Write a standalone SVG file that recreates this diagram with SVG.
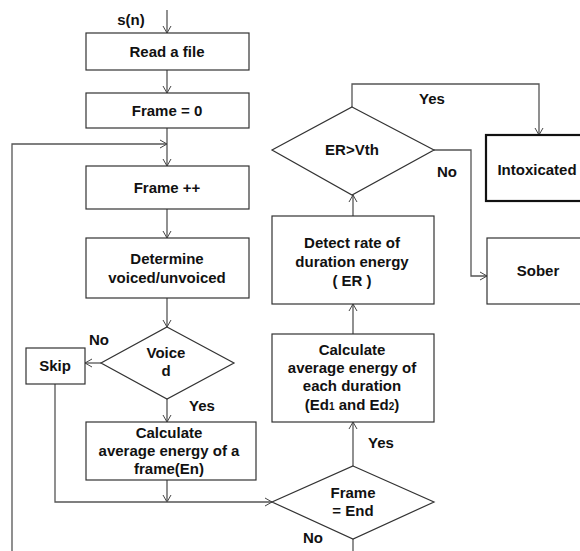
<svg xmlns="http://www.w3.org/2000/svg" width="580" height="551" viewBox="0 0 580 551">
<defs>
<marker id="arr" markerWidth="10" markerHeight="10" refX="8" refY="5" orient="auto" markerUnits="userSpaceOnUse">
<path d="M1,1 L8,5 L1,9" fill="none" stroke="#444" stroke-width="1"/>
</marker>
<style>
.box{fill:#fff;stroke:#333;stroke-width:1.2}
.thick{fill:#fff;stroke:#111;stroke-width:2.2}
.ln{fill:none;stroke:#555;stroke-width:1.3}
.t{font-family:"Liberation Sans",Arial,sans-serif;font-weight:bold;font-size:15px;fill:#111;text-anchor:middle}
.s{font-size:10px}
</style>
</defs>
<rect width="580" height="551" fill="#fff"/>
<g id="connectors">
<path class="ln" d="M167,10 V33" marker-end="url(#arr)"/>
<path class="ln" d="M167,70 V93" marker-end="url(#arr)"/>
<path class="ln" d="M167,128 V166" marker-end="url(#arr)"/>
<path class="ln" d="M12,551 V144 H167" marker-end="url(#arr)"/>
<path class="ln" d="M167,209 V238" marker-end="url(#arr)"/>
<path class="ln" d="M167,298 V327" marker-end="url(#arr)"/>
<path class="ln" d="M101,363 H85" marker-end="url(#arr)"/>
<path class="ln" d="M167,399 V422" marker-end="url(#arr)"/>
<path class="ln" d="M167,480 V502" marker-end="url(#arr)"/>
<path class="ln" d="M55,384 V502 H272" marker-end="url(#arr)"/>
<path class="ln" d="M353,539 V551"/>
<path class="ln" d="M353,466 V422" marker-end="url(#arr)"/>
<path class="ln" d="M353,334 V304" marker-end="url(#arr)"/>
<path class="ln" d="M353,216 V195" marker-end="url(#arr)"/>
<path class="ln" d="M352,107 V84 H539 V135" marker-end="url(#arr)"/>
<path class="ln" d="M434,150 H471 V276 H487" marker-end="url(#arr)"/>
<text class="t" x="131" y="25">s(n)</text>
<text class="t" x="99" y="345">No</text>
<text class="t" x="202" y="411">Yes</text>
<text class="t" x="381" y="448">Yes</text>
<text class="t" x="313" y="543">No</text>
<text class="t" x="432" y="104">Yes</text>
<text class="t" x="447" y="177">No</text>
</g>
<g id="read">
<rect class="box" x="86" y="33" width="163" height="37"/>
<text class="t" x="167" y="57">Read a file</text>
</g>
<g id="frame0">
<rect class="box" x="86" y="93" width="163" height="35"/>
<text class="t" x="167" y="116">Frame = 0</text>
</g>
<g id="frameinc">
<rect class="box" x="86" y="166" width="163" height="43"/>
<text class="t" x="167" y="193">Frame ++</text>
</g>
<g id="determine">
<rect class="box" x="86" y="238" width="163" height="60"/>
<text class="t" x="167" y="264">Determine</text>
<text class="t" x="167" y="283">voiced/unvoiced</text>
</g>
<g id="voiced">
<polygon class="box" points="167,327 234,363 167,399 101,363"/>
<text class="t" x="166" y="358">Voice</text>
<text class="t" x="166" y="376">d</text>
</g>
<g id="skip">
<rect class="box" x="26" y="348" width="59" height="36"/>
<text class="t" x="55" y="371">Skip</text>
</g>
<g id="calcframe">
<rect class="box" x="86" y="422" width="170" height="58"/>
<text class="t" x="169" y="438">Calculate</text>
<text class="t" x="169" y="456">average energy of a</text>
<text class="t" x="169" y="474">frame(En)</text>
</g>
<g id="frameend">
<polygon class="box" points="353,466 434,502 353,539 272,502"/>
<text class="t" x="353" y="498">Frame</text>
<text class="t" x="353" y="516">= End</text>
</g>
<g id="calcdur">
<rect class="box" x="272" y="334" width="162" height="88"/>
<text class="t" x="352" y="355">Calculate</text>
<text class="t" x="352" y="373">average energy of</text>
<text class="t" x="352" y="391">each duration</text>
<text class="t" x="352" y="410">(Ed<tspan class="s">1</tspan> and Ed<tspan class="s">2</tspan>)</text>
</g>
<g id="detect">
<rect class="box" x="272" y="216" width="162" height="88"/>
<text class="t" x="352" y="248">Detect rate of</text>
<text class="t" x="352" y="267">duration energy</text>
<text class="t" x="352" y="286">( ER )</text>
</g>
<g id="ervth">
<polygon class="box" points="352,107 434,150 352,195 272,150"/>
<text class="t" x="352" y="155">ER&gt;Vth</text>
</g>
<g id="intoxicated">
<rect class="thick" x="486" y="135" width="100" height="66"/>
<text class="t" x="537" y="175">Intoxicated</text>
</g>
<g id="sober">
<rect class="box" x="487" y="238" width="100" height="66"/>
<text class="t" x="538" y="276">Sober</text>
</g>
</svg>
